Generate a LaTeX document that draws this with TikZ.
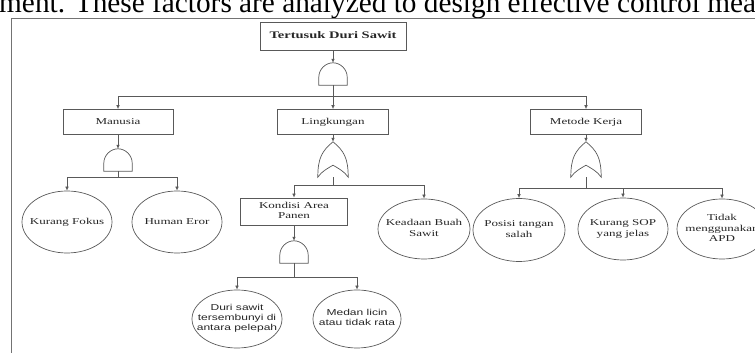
\documentclass[tikz,border=0pt]{standalone}
\usepackage{fontspec}
\setmainfont{Liberation Serif}
\newfontfamily\arialish{Liberation Sans}
\usepackage{graphicx}
\usetikzlibrary{shapes.geometric,arrows.meta,calc}

% horizontally widened, centred multi-line label
\newcommand\wtext[2][1.45]{\scalebox{#1}[1]{\begin{tabular}{@{}c@{}}#2\end{tabular}}}
% AND gate drawn inside a named placeholder node
\newcommand\andgate[1]{\draw[ln,fill=white] (#1.south west) -- ++(0,8)
  .. controls +(0,7.7) and +(-7.7,0) .. (#1.north)
  .. controls +(7.7,0) and +(0,7.7) .. ($(#1.south east)+(0,8)$)
  -- (#1.south east) -- cycle;}
% OR gate drawn inside a named placeholder node
\newcommand\orgate[1]{\draw[ln,fill=white] (#1.south west)
  .. controls +(0,19) and +(-11,-9) .. (#1.north)
  .. controls +(11,-9) and +(0,19) .. (#1.south east)
  .. controls +(-4,6) and +(5,-3) .. ($(#1.south)+(0,12)$)
  .. controls +(-5,-3) and +(4,6) .. (#1.south west) -- cycle;}

\begin{document}
\begin{tikzpicture}[x=1pt,y=1pt,
  ln/.style={draw=black!65,line width=0.7pt},
  arr/.style={ln,-{Latex[length=4pt,width=3.6pt]}},
  box/.style={ln,rectangle,inner sep=0pt,text=black!85,
    font=\fontsize{9}{10.5}\selectfont},
  ell/.style={ln,ellipse,inner sep=0pt},
  lbl/.style={inner sep=0pt,text=black!85,font=\fontsize{9}{10.5}\selectfont},
  gatebox/.style={inner sep=0pt,minimum width=28pt,minimum height=22pt},
  orbox/.style={inner sep=0pt,minimum width=30pt,minimum height=35pt},
]
\useasboundingbox (0,0) rectangle (755,353);
\clip (0,0) rectangle (755,353);

% running text above the figure
\node[anchor=base west,inner sep=0pt,font=\fontsize{29.3}{30}\selectfont] (head)
  at (-1,340.5) {ment. These factors are analyzed to design effective control mea};

% figure frame
\draw[draw=black!55,line width=1pt] (11,-5) -- (11,334) -- (760,334);

% top event
\node[box,minimum width=146pt,minimum height=28pt] (top) at (333,317)
  {\wtext[1.45]{\fontsize{10}{12}\selectfont\bfseries Tertusuk Duri Sawit}};
\node[gatebox] (g0) at (333,279) {};
\andgate{g0}
\draw[arr] (top.south) -- (g0.north);
\coordinate (bus0) at (333,257);
\draw[ln] (g0.south) -- (bus0);

% second level
\node[box,minimum width=110pt,minimum height=25pt] (man) at (118,231) {\wtext{Manusia}};
\node[box,minimum width=111pt,minimum height=25pt] (lin) at (333,231) {\wtext{Lingkungan}};
\node[box,minimum width=111pt,minimum height=25pt] (met) at (586,231) {\wtext{Metode Kerja}};
\draw[arr] (bus0) -| (man.north);
\draw[arr] (bus0) -- (lin.north);
\draw[arr] (bus0) -| (met.north);

% Manusia branch
\node[gatebox] (g1) at (118,193) {};
\andgate{g1}
\draw[arr] (man.south) -- (g1.north);
\coordinate (bus1) at (118,176);
\draw[ln] (g1.south) -- (bus1);
\node[ell,minimum width=90pt,minimum height=62pt] (kf) at (67,131) {};
\node[lbl] (kf-t) at (kf) {\wtext{Kurang Fokus}};
\node[ell,minimum width=90pt,minimum height=62pt] (he) at (177,131) {};
\node[lbl] (he-t) at (he) {\wtext{Human Eror}};
\draw[arr] (bus1) -| (kf.north);
\draw[arr] (bus1) -| (he.north);

% Lingkungan branch
\node[orbox] (o1) at (333,193.5) {};
\orgate{o1}
\draw[arr] (lin.south) -- (o1.north);
\coordinate (bus2) at (333,168);
\draw[ln] (o1.south) -- (bus2);
\node[box,minimum width=107pt,minimum height=27pt] (kap) at (294,141.5)
  {\wtext{Kondisi Area\\Panen}};
\node[ell,minimum width=92pt,minimum height=60pt] (kbs) at (424,124) {};
\node[lbl] (kbs-t) at (kbs) {\wtext{Keadaan Buah\\Sawit}};
\draw[arr] (bus2) -| (kap.north);
\draw[arr] (bus2) -| (kbs.north);

% Kondisi Area Panen branch
\node[gatebox] (g2) at (294,101) {};
\andgate{g2}
\draw[arr] (kap.south) -- (g2.north);
\coordinate (bus3) at (294,76);
\draw[ln] (g2.south) -- (bus3);
\node[ell,minimum width=90pt,minimum height=58pt] (dsw) at (237,34) {};
\node[lbl,font=\arialish\fontsize{8.6}{10}\selectfont] (dsw-t) at (dsw)
  {\wtext[1.4]{Duri sawit\\tersembunyi di\\antara pelepah}};
\node[ell,minimum width=88pt,minimum height=58pt] (mdl) at (357,34) {};
\node[lbl,font=\arialish\fontsize{8.6}{10}\selectfont] (mdl-t) at (mdl)
  {\wtext[1.4]{Medan licin\\atau tidak rata}};
\draw[arr] (bus3) -| (dsw.north);
\draw[arr] (bus3) -| (mdl.north);

% Metode Kerja branch
\node[orbox] (o2) at (586,193.5) {};
\orgate{o2}
\draw[arr] (met.south) -- (o2.north);
\coordinate (bus4) at (586,165);
\draw[ln] (o2.south) -- (bus4);
\node[ell,minimum width=92pt,minimum height=63pt] (pts) at (519,123) {};
\node[lbl] (pts-t) at (pts) {\wtext{Posisi tangan\\salah}};
\node[ell,minimum width=90pt,minimum height=62pt] (sop) at (623,124) {};
\node[lbl] (sop-t) at (sop) {\wtext{Kurang SOP\\yang jelas}};
\node[ell,minimum width=90pt,minimum height=60pt] (apd) at (722,124) {};
\node[lbl] (apd-t) at (apd) {\wtext{Tidak\\menggunakan\\APD}};
\draw[arr] (bus4) -| (pts.north);
\draw[arr] (bus4) -| (sop.north);
\draw[arr] (bus4) -| (apd.north);
\end{tikzpicture}
\end{document}
